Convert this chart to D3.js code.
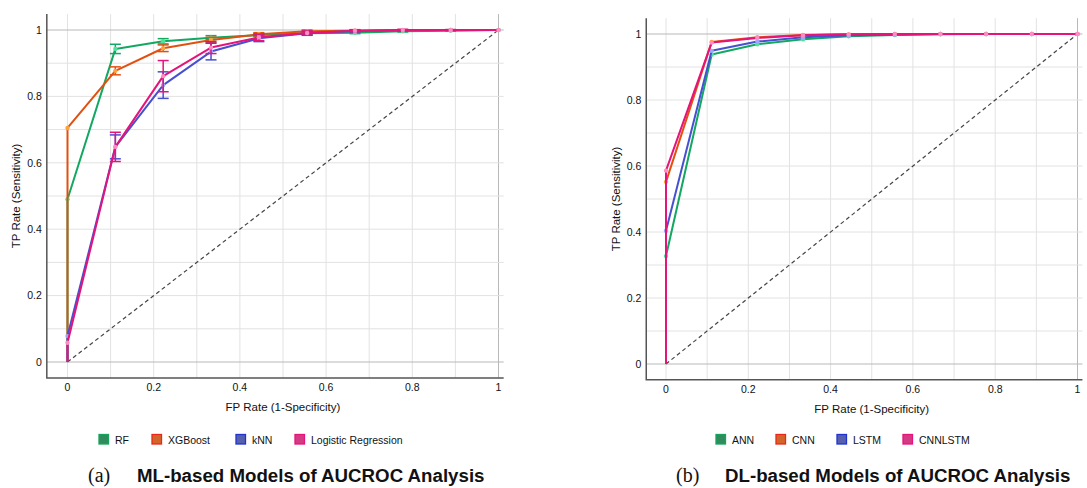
<!DOCTYPE html>
<html>
<head>
<meta charset="utf-8">
<script src="https://cdn.jsdelivr.net/npm/d3@7"></script>
<style>
  body { margin: 0; background: #fff; }
  svg { display: block; font-family: "Liberation Sans", Arial, Helvetica, sans-serif; }
</style>
</head>
<body>
<div id="chart"></div>
<script>
var width = 1087;
var height = 488;

// shared FP rate steps (first point doubled at 0)
var fpr = [0, 0, 0.111, 0.222, 0.333, 0.444, 0.556, 0.667, 0.778, 0.889, 1];
var ticks = [0, 0.2, 0.4, 0.6, 0.8, 1];

// (a) ML models
var mlNames = ["RF", "XGBoost", "kNN", "Logistic Regression"];
var rfTPR  = [0, 0.49, 0.943, 0.966, 0.977, 0.985, 0.99, 0.992, 0.996, 0.998, 1];
var xgbTPR = [0, 0.705, 0.877, 0.945, 0.97, 0.987, 0.996, 0.998, 0.999, 1, 1];
var knnTPR = [0, 0.078, 0.648, 0.834, 0.935, 0.975, 0.99, 0.997, 0.999, 1, 1];
var lrTPR  = [0, 0.058, 0.648, 0.861, 0.947, 0.978, 0.991, 0.998, 1, 1, 1];
var rfErr  = [0, 0, 0.014, 0.008, 0.006, 0.005, 0.004, 0.003, 0.002, 0.001, 0];
var xgbErr = [0, 0, 0.012, 0.01, 0.008, 0.005, 0.004, 0.002, 0.002, 0.001, 0];
var knnErr = [0, 0, 0.036, 0.04, 0.025, 0.01, 0.006, 0.003, 0.002, 0.001, 0];
var lrErr  = [0, 0, 0.044, 0.047, 0.018, 0.01, 0.006, 0.003, 0.002, 0.001, 0];

// (b) DL models
var dlNames = ["ANN", "CNN", "LSTM", "CNNLSTM"];
var annTPR     = [0, 0.327, 0.938, 0.969, 0.984, 0.993, 0.997, 0.999, 1, 1, 1];
var cnnTPR     = [0, 0.552, 0.976, 0.99, 0.997, 0.999, 1, 1, 1, 1, 1];
var lstmTPR    = [0, 0.404, 0.949, 0.977, 0.99, 0.996, 0.998, 1, 1, 1, 1];
var cnnlstmTPR = [0, 0.586, 0.974, 0.988, 0.996, 0.999, 1, 1, 1, 1, 1];

var lineColors   = ["#12a862", "#e2500f", "#4650d0", "#e5137a"];
var markColors   = ["#4fe39a", "#ffa03a", "#9aa6ff", "#ff8cc4"];
var swatchFill   = ["#2f8c5c", "#d4652a", "#5560b0", "#d63a84"];
var swatchStroke = ["#18a35c", "#e8281a", "#2233cc", "#e5137a"];

var svg = d3.select("#chart").append("svg")
    .attr("width", width)
    .attr("height", height);

function drawPanel(p) {
    var x = d3.scaleLinear().domain([0, 1]).range(p.xr);
    var y = d3.scaleLinear().domain([0, 1]).range(p.yr);
    var pad = 0.048;
    var g = svg.append("g");

    // grid every 0.1
    var grid = d3.range(0, 11).map(d => d / 10);
    g.selectAll(".vg").data(grid).enter().append("line")
        .attr("x1", d => x(d)).attr("x2", d => x(d))
        .attr("y1", y(1 + pad)).attr("y2", y(-pad))
        .attr("stroke", d => (d === 1 ? "#b8b8b8" : "#e2e2e2"))
        .attr("stroke-width", 1);
    g.selectAll(".hg").data(grid).enter().append("line")
        .attr("x1", x(-pad)).attr("x2", x(1 + 0.012))
        .attr("y1", d => y(d)).attr("y2", d => y(d))
        .attr("stroke", d => (d === 1 || d === 0 ? "#b8b8b8" : "#e2e2e2"))
        .attr("stroke-width", 1);

    // axis lines
    g.append("path")
        .attr("d", "M" + x(-pad) + "," + y(1 + pad) + "V" + y(-pad) + "H" + x(1 + 0.012))
        .attr("fill", "none").attr("stroke", "#555").attr("stroke-width", 1.5);

    // tick labels
    g.selectAll(".xt").data(ticks).enter().append("text")
        .attr("x", d => x(d)).attr("y", y(-pad) + 13.5)
        .attr("text-anchor", "middle").attr("font-size", 10.5).attr("fill", "#111")
        .text(d => d);
    g.selectAll(".yt").data(ticks).enter().append("text")
        .attr("x", x(-pad) - 5).attr("y", d => y(d) + 3.7)
        .attr("text-anchor", "end").attr("font-size", 10.5).attr("fill", "#111")
        .text(d => d);

    g.append("text")
        .attr("x", (p.xr[0] + p.xr[1]) / 2).attr("y", y(-pad) + 33)
        .attr("text-anchor", "middle").attr("font-size", 11.5).attr("fill", "#111")
        .text("FP Rate (1-Specificity)");
    g.append("text")
        .attr("transform", "translate(" + p.ylabX + "," + (p.yr[0] + p.yr[1]) / 2 + ") rotate(-90)")
        .attr("text-anchor", "middle").attr("font-size", 11.5).attr("fill", "#111")
        .text("TP Rate (Sensitivity)");

    // chance diagonal
    g.append("line")
        .attr("x1", x(0)).attr("y1", y(0)).attr("x2", x(1)).attr("y2", y(1))
        .attr("stroke", "#444").attr("stroke-width", 1.2)
        .attr("stroke-dasharray", "4,3");

    var line = d3.line().x(d => x(d[0])).y(d => y(d[1]));

    p.order.forEach(function(i) {
        var tpr = p.series[i];
        var pts = fpr.map((f, k) => [f, tpr[k]]);
        g.append("path").datum(pts)
            .attr("d", line)
            .attr("fill", "none")
            .attr("stroke", lineColors[i])
            .attr("stroke-width", 2)
            .attr("stroke-linejoin", "round");

        if (p.errs) {
            var e = p.errs[i];
            var eb = g.append("g").attr("stroke", lineColors[i]).attr("stroke-width", 1.5);
            pts.forEach(function(d, k) {
                if (!e[k]) return;
                var cx = x(d[0]), t = y(d[1] + e[k]), b = y(d[1] - e[k]);
                eb.append("line").attr("x1", cx).attr("x2", cx).attr("y1", t).attr("y2", b);
                eb.append("line").attr("x1", cx - 5.5).attr("x2", cx + 5.5).attr("y1", t).attr("y2", t);
                eb.append("line").attr("x1", cx - 5.5).attr("x2", cx + 5.5).attr("y1", b).attr("y2", b);
            });
        }

        g.selectAll(null).data(pts.slice(1)).enter().append("circle")
            .attr("cx", d => x(d[0])).attr("cy", d => y(d[1]))
            .attr("r", 2.2)
            .attr("fill", markColors[i]);
    });

    // legend
    p.names.forEach(function(n, i) {
        g.append("rect")
            .attr("x", p.legX[i]).attr("y", 434.5)
            .attr("width", 9.5).attr("height", 9.5)
            .attr("fill", swatchFill[i]).attr("stroke", swatchStroke[i]).attr("stroke-width", 1.3);
        g.append("text")
            .attr("x", p.legX[i] + 16).attr("y", 443.5)
            .attr("font-size", 10.5).attr("fill", "#111")
            .text(n);
    });

    // caption
    g.append("text")
        .attr("x", p.capX).attr("y", 482)
        .attr("font-family", "'Liberation Serif', 'DejaVu Serif', serif")
        .attr("font-size", 20).attr("fill", "#111")
        .text(p.tag);
    g.append("text")
        .attr("x", p.capX + 49).attr("y", 482)
        .attr("font-size", 18.7).attr("font-weight", "bold").attr("fill", "#111")
        .text(p.title);
}

drawPanel({
    xr: [67.5, 498.5], yr: [362, 30], ylabX: 20,
    series: [rfTPR, xgbTPR, knnTPR, lrTPR],
    errs: [rfErr, xgbErr, knnErr, lrErr],
    order: [0, 1, 2, 3],
    names: mlNames, legX: [99, 152, 236, 295],
    capX: 88, tag: "(a)", title: "ML-based Models of AUCROC Analysis"
});

drawPanel({
    xr: [666, 1077.5], yr: [364, 34], ylabX: 620,
    series: [annTPR, cnnTPR, lstmTPR, cnnlstmTPR],
    errs: null,
    order: [0, 1, 2, 3],
    names: dlNames, legX: [716, 776, 837, 903],
    capX: 676, tag: "(b)", title: "DL-based Models of AUCROC Analysis"
});
</script>
</body>
</html>
